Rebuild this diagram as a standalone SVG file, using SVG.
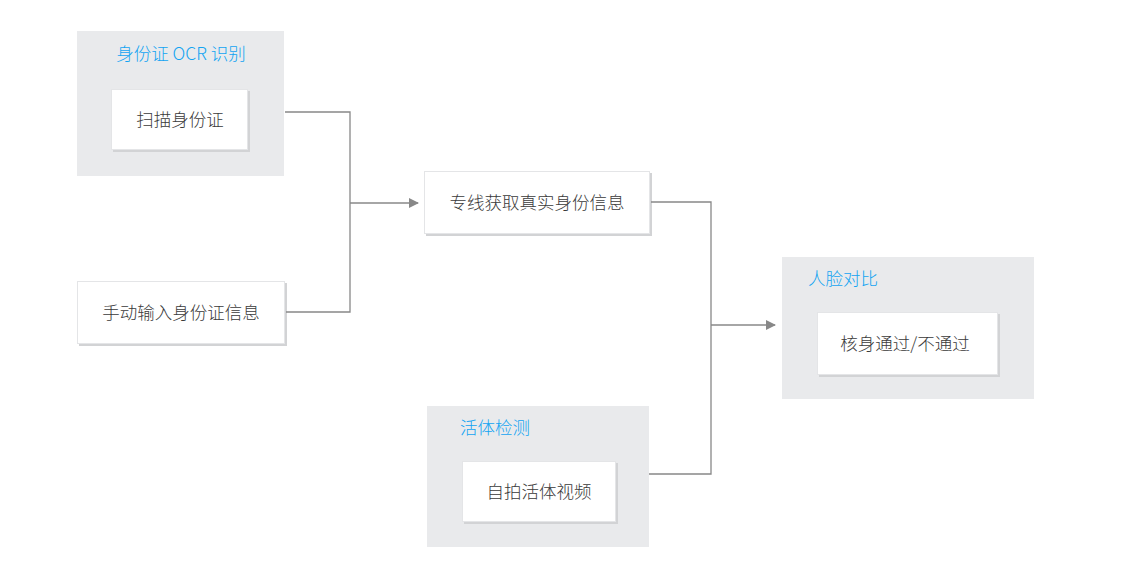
<svg xmlns="http://www.w3.org/2000/svg" width="1124" height="571" viewBox="0 0 1124 571">
<defs>
<marker id="arr" markerWidth="10" markerHeight="10" refX="9" refY="5" orient="auto" markerUnits="userSpaceOnUse">
<path d="M0,0 L10,5 L0,10 z" fill="#888"/>
</marker>
<style>
.grp{fill:#e9eaec;}
.shadow{fill:#d2d3d5;}
.box{fill:#fff;stroke:#e4e5e7;stroke-width:1;}
.t{font-family:"Noto Sans CJK SC","Liberation Sans",sans-serif;font-size:17.5px;font-weight:300;fill:#3a3a3a;text-anchor:middle;dominant-baseline:central;}
.lbl{font-family:"Noto Sans CJK SC","Liberation Sans",sans-serif;font-size:17.5px;font-weight:300;fill:#12a4f2;dominant-baseline:central;}
.c{fill:none;stroke:#888;stroke-width:1.3;}
</style>
</defs>
<rect width="1124" height="571" fill="#fff"/>
<g id="ocr">
<rect class="grp" x="77" y="31" width="207" height="145"/>
<text class="lbl" x="181" y="52" text-anchor="middle">身份证 OCR 识别</text>
</g>
<g id="scan">
<rect class="shadow" x="113" y="91" width="137" height="61"/>
<rect class="box" x="111.5" y="89.5" width="136" height="60"/>
<text class="t" x="180" y="118">扫描身份证</text>
</g>
<g id="manual">
<rect class="shadow" x="79" y="283" width="208" height="63"/>
<rect class="box" x="77.5" y="281.5" width="207" height="62"/>
<text class="t" x="181" y="311">手动输入身份证信息</text>
</g>
<g id="fetch">
<rect class="shadow" x="426" y="173" width="226" height="63"/>
<rect class="box" x="424.5" y="171.5" width="225" height="62"/>
<text class="t" x="537" y="201">专线获取真实身份信息</text>
</g>
<g id="face">
<rect class="grp" x="782" y="257" width="252" height="142"/>
<text class="lbl" x="808" y="277">人脸对比</text>
</g>
<g id="result">
<rect class="shadow" x="819" y="314" width="181" height="63"/>
<rect class="box" x="817.5" y="312.5" width="180" height="62"/>
<text class="t" x="905" y="342">核身通过/不通过</text>
</g>
<g id="live">
<rect class="grp" x="427" y="406" width="222" height="141"/>
<text class="lbl" x="460" y="426">活体检测</text>
</g>
<g id="video">
<rect class="shadow" x="464" y="463" width="154" height="61"/>
<rect class="box" x="462.5" y="461.5" width="153" height="60"/>
<text class="t" x="539" y="490">自拍活体视频</text>
</g>
<g id="connectors">
<polyline class="c" points="285,112 350,112 350,312 286,312"/>
<line class="c" x1="350" y1="203" x2="418" y2="203" marker-end="url(#arr)"/>
<polyline class="c" points="651,202 711,202 711,474 649,474"/>
<line class="c" x1="711" y1="325" x2="775" y2="325" marker-end="url(#arr)"/>
</g>
</svg>
